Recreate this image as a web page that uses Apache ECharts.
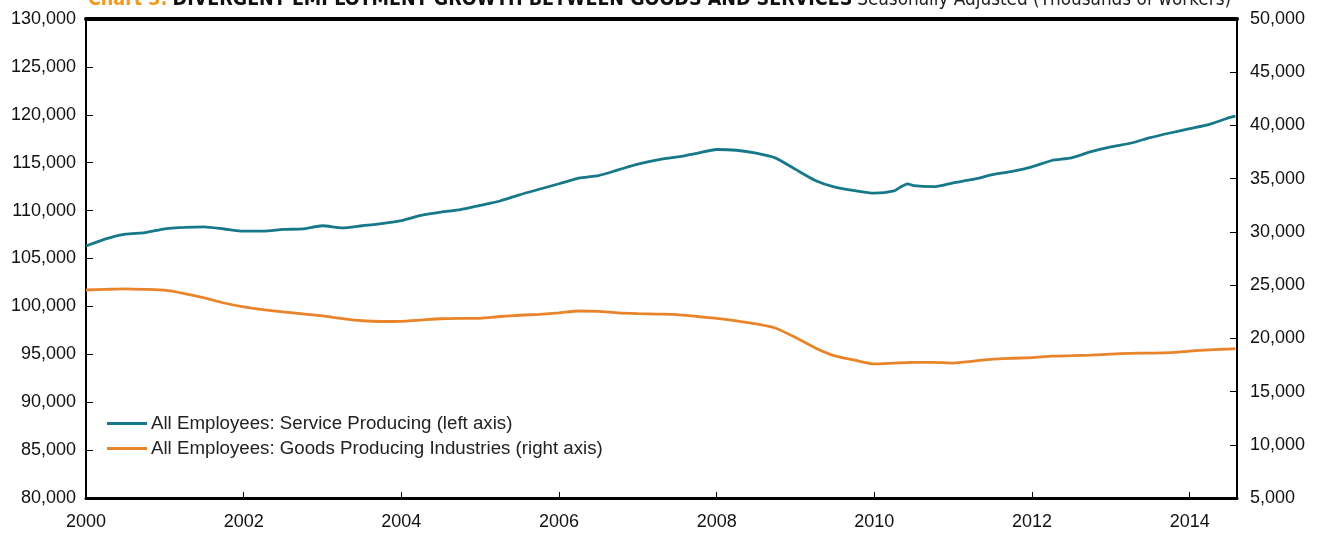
<!DOCTYPE html>
<html><head><meta charset="utf-8">
<script src="https://cdn.jsdelivr.net/npm/echarts@6/dist/echarts.min.js"></script>
<style>html,body{margin:0;padding:0;background:#fff}#c{width:1320px;height:533px}</style>
</head><body><div id="c"></div>
<script>
// Dates (decimal years) at which values were read
const dates = [2000.00,2000.25,2000.50,2000.75,2001.00,2001.25,2001.50,2001.75,2002.00,2002.25,2002.50,2002.75,2003.00,2003.25,2003.50,2003.75,2004.00,2004.25,2004.50,2004.75,2005.00,2005.25,2005.50,2005.75,2006.00,2006.25,2006.50,2006.75,2007.00,2007.25,2007.50,2007.75,2008.00,2008.25,2008.50,2008.75,2009.00,2009.25,2009.50,2009.75,2010.00,2010.25,2010.33,2010.42,2010.50,2010.75,2011.00,2011.25,2011.50,2011.75,2012.00,2012.25,2012.50,2012.75,2013.00,2013.25,2013.50,2013.75,2014.00,2014.25,2014.50,2014.58];
// All Employees: Service Producing (thousands, left axis)
const serviceValues = [106300,107050,107550,107700,108100,108250,108300,108080,107850,107850,108030,108100,108420,108200,108420,108650,108950,109500,109850,110100,110550,111000,111650,112230,112800,113400,113660,114250,114850,115300,115600,115980,116380,116300,116000,115480,114300,113150,112450,112080,111820,112050,112450,112800,112600,112500,112900,113250,113750,114100,114570,115230,115500,116150,116650,117030,117620,118100,118550,119000,119700,119870];
// All Employees: Goods Producing Industries (thousands, right axis)
const goodsValues = [24540,24600,24650,24600,24520,24200,23800,23320,22950,22690,22480,22290,22100,21850,21650,21580,21600,21720,21840,21870,21880,22050,22170,22260,22400,22570,22530,22400,22330,22280,22230,22050,21880,21640,21350,20950,20080,19100,18350,17950,17600,17680,17700,17720,17750,17750,17680,17850,18050,18130,18190,18320,18370,18430,18520,18590,18610,18650,18800,18920,19000,19030];
const seriesNames = ['All Employees: Service Producing (left axis)','All Employees: Goods Producing Industries (right axis)'];
const titleParts = ['Chart 3:', 'DIVERGENT EMPLOYMENT GROWTH BETWEEN GOODS AND SERVICES', 'Seasonally Adjusted (Thousands of workers)'];

const FONT = "'Liberation Sans', Arial, sans-serif";
const NARROW = "'Liberation Sans Narrow', 'DejaVu Sans Condensed', 'Liberation Sans', sans-serif";
const TEAL = '#167889', ORANGE = '#e9842a';
const fmt = v => v.toLocaleString('en-US');

const chart = echarts.init(document.getElementById('c'), null, {renderer:'canvas'});
chart.setOption({
  animation:false,
  backgroundColor:'#fff',
  title:{
    left:83, top:-15,
    text:'{o|'+titleParts[0]+'} {b|'+titleParts[1]+'} {n|'+titleParts[2]+'}',
    textStyle:{rich:{
      o:{color:'#f39a1e',fontFamily:NARROW,fontWeight:'bold',fontSize:19.5},
      b:{color:'#111',fontFamily:NARROW,fontWeight:'bold',fontSize:19.5},
      n:{color:'#222',fontFamily:NARROW,fontWeight:'normal',fontSize:18.8}
    }}
  },
  legend:{
    orient:'vertical', left:102, top:409, itemGap:6,
    icon:'rect', itemWidth:40, itemHeight:3,
    textStyle:{fontFamily:FONT,fontSize:18.7,color:'#222',padding:[0,0,0,-1]},
    data:seriesNames
  },
  grid:{left:86,right:83,top:19,bottom:35,show:true,borderColor:'#000',borderWidth:2},
  xAxis:[{
    type:'value', min:2000, max:2014.6, interval:2,
    axisLine:{show:true,lineStyle:{color:'#000',width:3}},
    axisTick:{show:true,inside:true,length:6,lineStyle:{color:'#000',width:1}},
    axisLabel:{fontFamily:FONT,fontSize:18,color:'#111',margin:15,formatter:v=>String(v),showMaxLabel:false},
    splitLine:{show:false}
  },{
    type:'value', position:'top', min:2000, max:2014.6,
    axisLine:{show:true,lineStyle:{color:'#000',width:4}},
    axisTick:{show:false}, axisLabel:{show:false}, splitLine:{show:false}
  }],
  yAxis:[{
    type:'value', min:80000, max:130000, interval:5000, position:'left',
    axisLine:{show:true,lineStyle:{color:'#000',width:2}},
    axisTick:{show:true,inside:true,length:7,lineStyle:{color:'#000',width:1}},
    axisLabel:{fontFamily:FONT,fontSize:18,color:'#111',margin:10,formatter:fmt},
    splitLine:{show:false}
  },{
    type:'value', min:5000, max:50000, interval:5000, position:'right',
    axisLine:{show:true,lineStyle:{color:'#000',width:2}},
    axisTick:{show:true,inside:true,length:7,lineStyle:{color:'#000',width:1}},
    axisLabel:{fontFamily:FONT,fontSize:18,color:'#111',margin:13,formatter:fmt},
    splitLine:{show:false}
  }],
  series:[{
    name:seriesNames[0], type:'line', yAxisIndex:0, xAxisIndex:0,
    data:dates.map((d,i)=>[d,serviceValues[i]]),
    showSymbol:false, smooth:0.2, lineStyle:{color:TEAL,width:2.8}, itemStyle:{color:TEAL}
  },{
    name:seriesNames[1], type:'line', yAxisIndex:1, xAxisIndex:0,
    data:dates.map((d,i)=>[d,goodsValues[i]]),
    showSymbol:false, smooth:0.2, lineStyle:{color:ORANGE,width:2.8}, itemStyle:{color:ORANGE}
  }]
});
</script></body></html>
